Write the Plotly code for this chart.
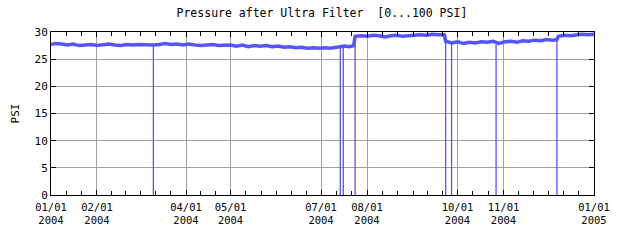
import plotly.graph_objects as go
import pandas as pd

# ---- data ----
level_dates = [
    "2004-01-01", "2004-01-04", "2004-01-08", "2004-01-12", "2004-01-16", "2004-01-20",
    "2004-01-24", "2004-01-28", "2004-02-01", "2004-02-05", "2004-02-09", "2004-02-13",
    "2004-02-17", "2004-02-21", "2004-02-25", "2004-02-29", "2004-03-04", "2004-03-10",
    "2004-03-14", "2004-03-18", "2004-03-22", "2004-03-26", "2004-03-30", "2004-04-03",
    "2004-04-07", "2004-04-11", "2004-04-15", "2004-04-19", "2004-04-23", "2004-04-27",
    "2004-05-01", "2004-05-05", "2004-05-09", "2004-05-13", "2004-05-17", "2004-05-21",
    "2004-05-25", "2004-05-29", "2004-06-02", "2004-06-06", "2004-06-10", "2004-06-14",
    "2004-06-18", "2004-06-22", "2004-06-26", "2004-06-30", "2004-07-04", "2004-07-07",
    "2004-07-14", "2004-07-17", "2004-07-20", "2004-07-23",
    "2004-07-24", "2004-07-28", "2004-08-01", "2004-08-05", "2004-08-09", "2004-08-13",
    "2004-08-17", "2004-08-21", "2004-08-25", "2004-08-29", "2004-09-02", "2004-09-06",
    "2004-09-10", "2004-09-14", "2004-09-18", "2004-09-22",
    "2004-09-23", "2004-09-27", "2004-10-01", "2004-10-05", "2004-10-09", "2004-10-13",
    "2004-10-17", "2004-10-21", "2004-10-25", "2004-10-29", "2004-11-02", "2004-11-06",
    "2004-11-10", "2004-11-14", "2004-11-18", "2004-11-22", "2004-11-26", "2004-11-30",
    "2004-12-04", "2004-12-07",
    "2004-12-08", "2004-12-12", "2004-12-16", "2004-12-20", "2004-12-24", "2004-12-28",
    "2005-01-01",
]
level_psi = [
    27.7, 27.9, 27.8, 27.6, 27.8, 27.5,
    27.6, 27.7, 27.5, 27.7, 27.8, 27.6,
    27.5, 27.7, 27.6, 27.7, 27.6, 27.6,
    27.7, 27.9, 27.7, 27.8, 27.6, 27.8,
    27.6, 27.5, 27.6, 27.7, 27.5, 27.6,
    27.6, 27.4, 27.6, 27.3, 27.5, 27.4,
    27.5, 27.3, 27.4, 27.2, 27.3, 27.1,
    27.2, 27.0, 27.1, 27.0, 27.1, 27.0,
    27.3, 27.4, 27.3, 27.5,
    29.2, 29.3, 29.2, 29.4, 29.3, 29.1,
    29.3, 29.4, 29.2, 29.3, 29.4, 29.5,
    29.4, 29.6, 29.5, 29.5,
    28.3, 28.0, 28.2, 27.9, 28.1, 28.0,
    28.2, 28.1, 28.3, 27.9, 28.2, 28.3,
    28.1, 28.4, 28.3, 28.5, 28.4, 28.6,
    28.5, 28.6,
    29.2, 29.4, 29.3, 29.4, 29.6, 29.5,
    29.6,
]

# short outages where the reading fell to 0 PSI
drop_dates = ["2004-03-10", "2004-07-14", "2004-07-16", "2004-07-24",
              "2004-09-23", "2004-09-27", "2004-10-27", "2004-12-07"]
drop_before = [27.6, 27.0, 27.3, 27.5, 29.5, 28.0, 28.2, 28.6]
drop_after = [27.6, 27.3, 27.3, 29.2, 28.3, 28.0, 28.2, 29.2]
drop_low = [0, 0, 0, 0, 0, 0, 0, 0]

label_dates = ["2004-01-01", "2004-02-01", "2004-04-01", "2004-05-01", "2004-07-01",
               "2004-08-01", "2004-10-01", "2004-11-01", "2005-01-01"]
label_text = ["01/01<br>2004", "02/01<br>2004", "04/01<br>2004", "05/01<br>2004",
              "07/01<br>2004", "08/01<br>2004", "10/01<br>2004", "11/01<br>2004",
              "01/01<br>2005"]
y_ticks = [0, 5, 10, 15, 20, 25, 30]

# ---- build ----
BLUE = "#5555ff"
GRID = "#a0a0a0"
FONT = "DejaVu Sans Mono"

dx, dy = [], []
for d, b, lo, a in zip(drop_dates, drop_before, drop_low, drop_after):
    dx += [d, d, d, None]
    dy += [b, lo, a, None]

# minor ticks at thirds of each month
minor_vals = []
for m in pd.date_range("2004-01-01", "2004-12-01", freq="MS"):
    nxt = m + pd.offsets.MonthBegin(1)
    span = nxt - m
    for k in range(3):
        minor_vals.append((m + span * k / 3).strftime("%Y-%m-%d %H:%M"))

fig = go.Figure()
fig.add_trace(go.Scatter(x=level_dates, y=level_psi, mode="lines",
                         line=dict(color=BLUE, width=3.5), hoverinfo="skip"))
fig.add_trace(go.Scatter(x=dx, y=dy, mode="lines",
                         line=dict(color=BLUE, width=1.3), hoverinfo="skip"))

fig.update_layout(
    width=640, height=240,
    margin=dict(l=51, r=46, t=32, b=45),
    paper_bgcolor="white", plot_bgcolor="white",
    showlegend=False,
    font=dict(family=FONT, size=11, color="black"),
    title=dict(text="Pressure after Ultra Filter  [0...100 PSI]",
               x=0.503, xanchor="center", y=0.945, yanchor="middle",
               font=dict(family=FONT, size=11.5, color="black")),
)
fig.update_xaxes(
    type="date", range=["2004-01-01", "2005-01-01"],
    tickmode="array", tickvals=label_dates, ticktext=label_text,
    ticks="inside", ticklen=5, tickcolor="black",
    showgrid=True, gridcolor=GRID, gridwidth=1,
    showline=True, linecolor="black", linewidth=1, mirror="ticks",
    zeroline=False, ticklabelstandoff=2,
    tickfont=dict(family=FONT, size=10.5),
    minor=dict(tickmode="array", tickvals=minor_vals, ticks="inside",
               ticklen=4, tickcolor="black", showgrid=False),
)
fig.update_yaxes(
    range=[0, 30], tickmode="array", tickvals=y_ticks,
    ticks="inside", ticklen=5, tickcolor="black",
    showgrid=True, gridcolor=GRID, gridwidth=1,
    showline=True, linecolor="black", linewidth=1, mirror="ticks",
    zeroline=False,
    tickfont=dict(family=FONT, size=11),
    title=dict(text="PSI", font=dict(family=FONT, size=11), standoff=12),
)

fig.write_html("out.html")
